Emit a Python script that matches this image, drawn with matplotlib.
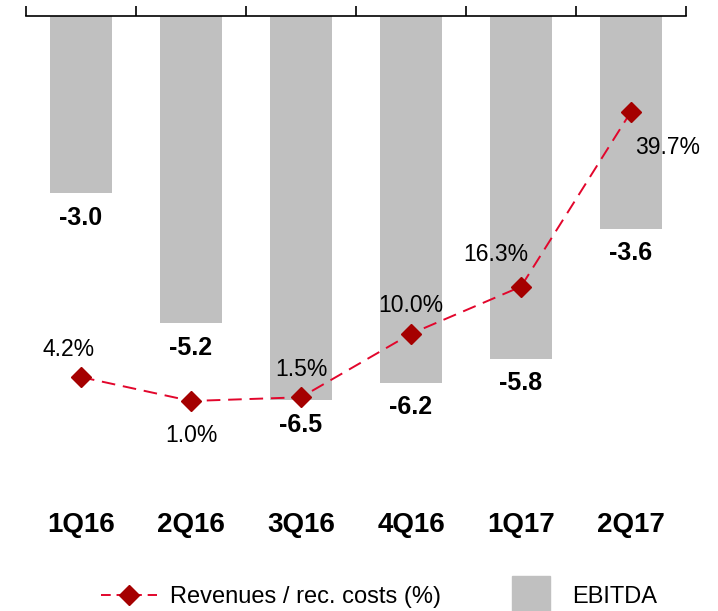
import matplotlib.pyplot as plt
from matplotlib.lines import Line2D

plt.rcParams['font.family'] = ['Liberation Sans', 'DejaVu Sans']

quarters = ['1Q16', '2Q16', '3Q16', '4Q16', '1Q17', '2Q17']
ebitda = [-3.0, -5.2, -6.5, -6.2, -5.8, -3.6]
rev_ratio = [4.2, 1.0, 1.5, 10.0, 16.3, 39.7]

bar_color = '#C0C0C0'
line_color = '#E2062C'
marker_color = '#A50000'

fig = plt.figure(figsize=(7.18, 6.11), dpi=100)
ax = fig.add_axes([26 / 718, 1 - 470 / 611, 660 / 718, 454 / 611])
x = list(range(len(quarters)))

ax.bar(x, ebitda, width=0.57, color=bar_color, zorder=1)
ax.set_xlim(-0.5, 5.5)
ax.set_ylim(-7.68, 0)
for s in ['left', 'right', 'bottom']:
    ax.spines[s].set_visible(False)
ax.spines['top'].set_linewidth(1.2)
ax.xaxis.tick_top()
ax.set_xticks([i - 0.5 for i in range(len(quarters) + 1)])
ax.tick_params(axis='x', direction='out', length=7, width=1.2, labeltop=False)
ax.set_yticks([])

for i, v in enumerate(ebitda):
    ax.annotate(f'{v:.1f}', (i, v), xytext=(0, -17.5), textcoords='offset points',
                ha='center', va='center', fontsize=18, fontweight='bold')

for i, q in enumerate(quarters):
    ax.text(i, -0.122, q, transform=ax.get_xaxis_transform(), ha='center',
            va='center', fontsize=20, fontweight='bold')

ax2 = ax.twinx()
ax2.plot(x, rev_ratio, color=line_color, linestyle=(0, (7, 4)), linewidth=1.4,
         marker='D', markersize=10.5, markerfacecolor=marker_color,
         markeredgecolor=marker_color, zorder=3)
ax2.set_ylim(-8.23, 52.5)
ax2.set_yticks([])
for s in ['left', 'right', 'bottom', 'top']:
    ax2.spines[s].set_visible(False)

offsets = [(-9, 20), (0, -25), (0, 20), (0, 20), (-18, 23), (26, -26)]
for i, v in enumerate(rev_ratio):
    ax2.annotate(f'{v:.1f}%', (i, v), xytext=offsets[i], textcoords='offset points',
                 ha='center', va='center', fontsize=16.5)

handles = [
    Line2D([], [], color=line_color, linestyle=(0, (5, 3)), linewidth=1.4, marker='D',
           markersize=10.5, markerfacecolor=marker_color, markeredgecolor=marker_color),
    Line2D([], [], color=bar_color, linestyle='none', marker='s', markersize=27),
]
fig.legend(handles, ['Revenues / rec. costs (%)', 'EBITDA'], loc='center',
           bbox_to_anchor=(379 / 718, 1 - 597 / 611), ncol=2, frameon=False,
           fontsize=17, handlelength=2.4, handletextpad=0.55, columnspacing=2.6)

fig.savefig('out.png', dpi=100)
